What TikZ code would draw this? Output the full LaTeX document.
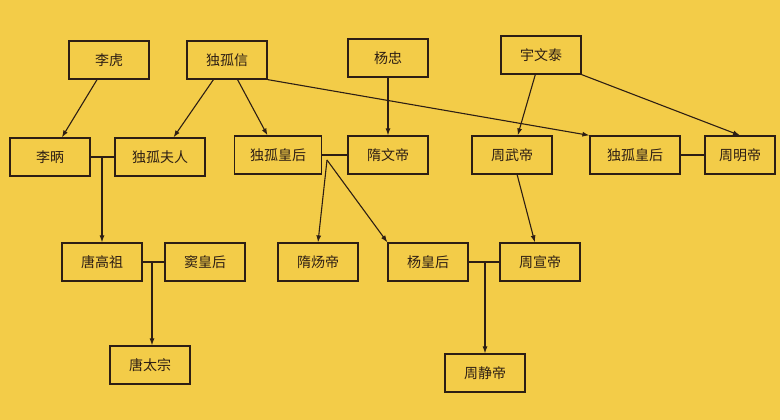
\documentclass[tikz,border=0pt]{standalone}
\usepackage{fontspec}
\newfontfamily\cjk{Noto Sans CJK SC}
\usetikzlibrary{positioning, arrows.meta}
\definecolor{cbg}{RGB}{243,204,72}
\definecolor{cline}{RGB}{45,30,20}
\tikzset{
Person/.style={
	draw=cline, line width=1.2pt,
	minimum width=80pt, minimum height=38pt,
	font=\cjk\fontsize{14}{16}\selectfont, text=cline
},
Link/.style={
	draw=cline, line width=1.1pt
},
Child/.style={
	Link, -{Latex[length=7pt,width=5pt]}
}
}
\begin{document}
\begin{tikzpicture}[x=1pt,y=-1pt]
	\fill[cbg] (0,0) rectangle (780,420);
	% first generation
	\node[Person] (LH) at (109,60) {李虎};
	\node[Person] (DGX) at (227,60) {独孤信};
	\node[Person] (YZ) at (388,58) {杨忠};
	\node[Person] (YWT) at (541,55) {宇文泰};
	% second generation
	\node[Person] (LB) at (50,157) {李昞};
	\node[Person, minimum width=90pt] (DGFR) at (160,157) {独孤夫人};
	\node[Person, minimum width=87pt] (DGHH) at (278,155) {独孤皇后};
	\node[Person] (SWD) at (388,155) {隋文帝};
	\node[Person] (ZWD) at (512,155) {周武帝};
	\node[Person, minimum width=90pt] (DGHHb) at (635,155) {独孤皇后};
	\node[Person, minimum width=70pt] (ZMD) at (740,155) {周明帝};
	% third generation
	\node[Person] (TGZ) at (102,262) {唐高祖};
	\node[Person] (DHH) at (205,262) {窦皇后};
	\node[Person] (SYD) at (318,262) {隋炀帝};
	\node[Person] (YHH) at (428,262) {杨皇后};
	\node[Person] (ZXD) at (540,262) {周宣帝};
	% fourth generation
	\node[Person] (TTZ) at (150,365) {唐太宗};
	\node[Person] (ZJD) at (485,373) {周静帝};

	% marriages
	\draw[Link] (LB) -- (DGFR);
	\draw[Link] (TGZ) -- (DHH);
	\draw[Link] (DGHH) -- (SWD);
	\draw[Link] (YHH) -- (ZXD);
	\draw[Link] (DGHHb) -- (ZMD);
	\coordinate (m1) at (102,157);
	\coordinate (m2) at (152,262);
	\coordinate (m3) at (327,160);
	\coordinate (m4) at (485,262);

	% parent to child
	\draw[Child] (LH) -- (LB);
	\draw[Child] (DGX) -- (DGFR);
	\draw[Child] (DGX) -- (DGHH);
	\draw[Child] (DGX.south east) -- (DGHHb.north west);
	\draw[Child] (YZ) -- (SWD);
	\draw[Child] (YWT) -- (ZWD);
	\draw[Child] (YWT.south east) -- (ZMD.north);
	\draw[Child] (ZWD) -- (ZXD);
	\draw[Child] (m1) -- (m1 |- TGZ.north);
	\draw[Child] (m2) -- (TTZ.north -| m2);
	\draw[Child] (m3) -- (SYD.north);
	\draw[Child] (m3) -- (YHH.north west);
	\draw[Child] (m4) -- (ZJD.north);
\end{tikzpicture}
\end{document}
